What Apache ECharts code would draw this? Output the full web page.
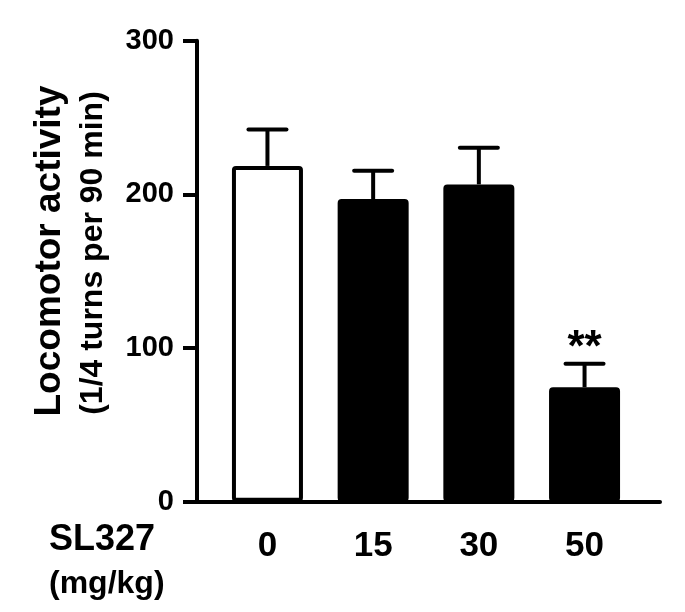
<!DOCTYPE html>
<html>
<head>
<meta charset="utf-8">
<script src="https://cdn.jsdelivr.net/npm/echarts@6/dist/echarts.min.js"></script>
<style>
  html, body { margin: 0; padding: 0; background: #fff; }
  #chart { width: 685px; height: 612px; }
</style>
</head>
<body>
<div id="chart"></div>
<script>
// ---- data ----
const categories = ['0', '15', '30', '50'];
const means = [218.5, 197, 206.5, 74.5];
const sems = [23.7, 18.3, 23.9, 15.3];
const sig = ['', '', '', '**'];
const yMin = 0, yMax = 300, yStep = 100;
const xGroupName = 'SL327';
const xGroupUnit = '(mg/kg)';
const yTitle = 'Locomotor activity';
const ySubTitle = '(1/4 turns per 90 min)';

// ---- chart ----
const FONT = "'Liberation Sans', Arial, Helvetica, sans-serif";
const chart = echarts.init(document.getElementById('chart'), null, { renderer: 'canvas' });

const gridTop = 40.7, gridBottom = 110.3;

const option = {
  backgroundColor: '#ffffff',
  animation: false,
  grid: [
    { left: 197, right: 25, top: gridTop, bottom: gridBottom },
    { left: 214.6, right: 47.6, top: gridTop, bottom: gridBottom }
  ],
  xAxis: [
    { gridIndex: 0, type: 'value', min: 0, max: 1,
      axisLine: { show: true, lineStyle: { color: '#000', width: 4 } },
      axisTick: { show: false }, axisLabel: { show: false }, splitLine: { show: false } },
    { gridIndex: 1, type: 'category', data: categories,
      axisLine: { show: false }, axisTick: { show: false }, splitLine: { show: false },
      axisLabel: { color: '#000', fontSize: 35, fontWeight: 'bold', fontFamily: FONT, margin: 27 } }
  ],
  yAxis: [
    { gridIndex: 0, type: 'value', min: yMin, max: yMax, interval: yStep,
      axisLine: { show: true, lineStyle: { color: '#000', width: 4 } },
      axisTick: { show: true, length: 14, lineStyle: { color: '#000', width: 4 } },
      axisLabel: { color: '#000', fontSize: 29, fontWeight: 'bold', fontFamily: FONT, margin: 23 },
      splitLine: { show: false } },
    { gridIndex: 1, type: 'value', min: yMin, max: yMax, show: false }
  ],
  series: [
    {
      type: 'bar', xAxisIndex: 1, yAxisIndex: 1,
      data: means,
      barWidth: 71,
      itemStyle: {
        color: (p) => (p.dataIndex === 0 ? '#ffffff' : '#000000'),
        borderColor: '#000', borderWidth: 4, borderRadius: 2
      },
      z: 2
    },
    {
      type: 'custom', xAxisIndex: 1, yAxisIndex: 1,
      data: categories.map((c, i) => [i, means[i], means[i] + sems[i]]),
      z: 3,
      renderItem: (params, api) => {
        const i = api.value(0);
        const base = api.coord([i, api.value(1)]);
        const top = api.coord([i, api.value(2)]);
        const half = 19;
        const children = [
          { type: 'line', shape: { x1: base[0], y1: base[1], x2: top[0], y2: top[1] },
            style: { stroke: '#000', lineWidth: 4 } },
          { type: 'line', shape: { x1: top[0] - half, y1: top[1], x2: top[0] + half, y2: top[1] },
            style: { stroke: '#000', lineWidth: 4, lineCap: 'round' } }
        ];
        const s = sig[params.dataIndex];
        if (s) {
          children.push({ type: 'text', x: top[0], y: top[1] - 14.5,
            style: { text: s, fill: '#000', font: 'bold 44px ' + FONT,
                     textAlign: 'center', textVerticalAlign: 'middle' } });
        }
        return { type: 'group', children };
      }
    }
  ],
  graphic: [
    { type: 'text', x: 50, y: 251, rotation: Math.PI / 2,
      style: { text: yTitle, fill: '#000', font: 'bold 37px ' + FONT, textAlign: 'center', textVerticalAlign: 'middle' } },
    { type: 'text', x: 93, y: 253, rotation: Math.PI / 2,
      style: { text: ySubTitle, fill: '#000', font: 'bold 32px ' + FONT, textAlign: 'center', textVerticalAlign: 'middle' } },
    { type: 'text', x: 49, y: 540,
      style: { text: xGroupName, fill: '#000', font: 'bold 36px ' + FONT, textAlign: 'left', textVerticalAlign: 'middle' } },
    { type: 'text', x: 49, y: 584,
      style: { text: xGroupUnit, fill: '#000', font: 'bold 32px ' + FONT, textAlign: 'left', textVerticalAlign: 'middle' } }
  ]
};
chart.setOption(option);
</script>
</body>
</html>
